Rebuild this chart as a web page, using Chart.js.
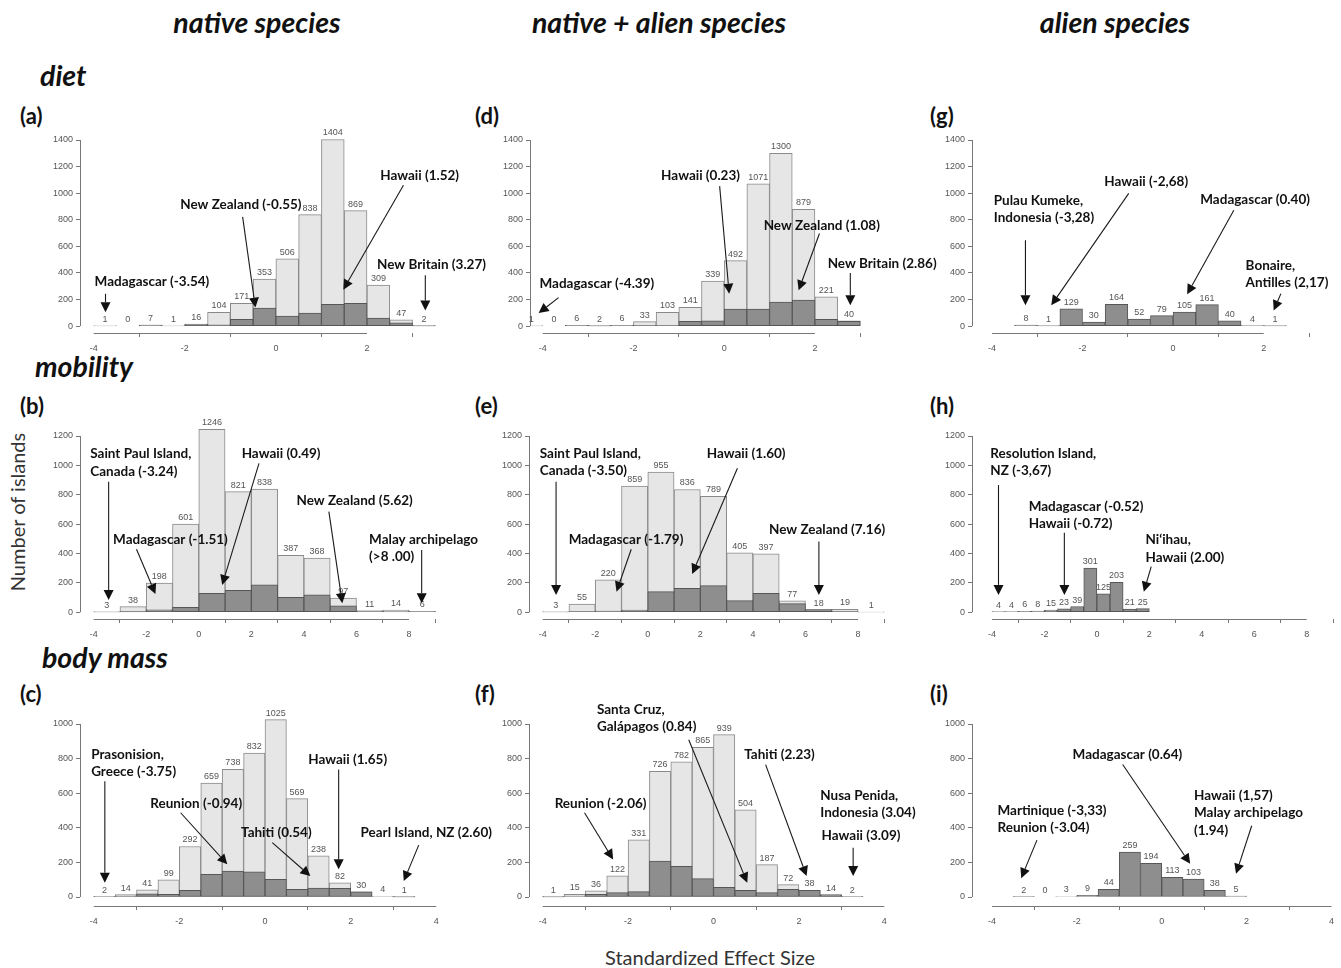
<!DOCTYPE html>
<html>
<head>
<meta charset="utf-8">
<title>Standardized effect size histograms</title>
<script src="https://cdn.jsdelivr.net/npm/chart.js@4.4.1/dist/chart.umd.min.js"></script>
<style>
  body { margin: 0; width: 1341px; height: 968px; overflow: hidden; background: #fff; position: relative; font-family: Lato, "Noto Sans", sans-serif; color: #111; }
  canvas { position: absolute; }
  .lbl { position: absolute; white-space: nowrap; transform: translate(-50%, -50%); }
  .head { font-weight: 700; font-style: italic; font-size: 28.5px; }
  .row { position: absolute; white-space: nowrap; transform: translateY(-50%); font-weight: 700; font-style: italic; font-size: 28.5px; }
  .tag { position: absolute; white-space: nowrap; transform: translateY(-50%); font-weight: 700; font-size: 22px; }
  .axis { font-size: 20px; color: #333; }
</style>
</head>
<body>
<div class="lbl head" style="left:257px;top:22px">native species</div>
<div class="lbl head" style="left:659px;top:22px">native + alien species</div>
<div class="lbl head" style="left:1115px;top:22px">alien species</div>

<div class="row" style="left:40px;top:75px">diet</div>
<div class="row" style="left:35px;top:366px">mobility</div>
<div class="row" style="left:42px;top:657px">body mass</div>

<div class="tag" style="left:20px;top:115px">(a)</div>
<div class="tag" style="left:20px;top:405px">(b)</div>
<div class="tag" style="left:20px;top:693px">(c)</div>
<div class="tag" style="left:475px;top:115px">(d)</div>
<div class="tag" style="left:475px;top:405px">(e)</div>
<div class="tag" style="left:475px;top:693px">(f)</div>
<div class="tag" style="left:930px;top:115px">(g)</div>
<div class="tag" style="left:930px;top:405px">(h)</div>
<div class="tag" style="left:930px;top:693px">(i)</div>

<div class="lbl axis" style="left:17px;top:512px;transform:translate(-50%,-50%) rotate(-90deg)">Number of islands</div>
<div class="lbl axis" style="left:710px;top:957px">Standardized Effect Size</div>

<script>
// lower bin edges
const binsDiet = [-4, -3.5, -3, -2.5, -2, -1.5, -1, -0.5, 0, 0.5, 1, 1.5, 2, 2.5, 3];
const binsDietMixed = [-4.5, -4, -3.5, -3, -2.5, -2, -1.5, -1, -0.5, 0, 0.5, 1, 1.5, 2, 2.5];
const binsDietAlien = [-3.5, -3, -2.5, -2, -1.5, -1, -0.5, 0, 0.5, 1, 1.5, 2];
const binsMobility = [-4, -3, -2, -1, 0, 1, 2, 3, 4, 5, 6, 7, 8];
const binsMobilityAlien = [-4, -3.5, -3, -2.5, -2, -1.5, -1, -0.5, 0, 0.5, 1, 1.5];
const binsMass = [-4, -3.5, -3, -2.5, -2, -1.5, -1, -0.5, 0, 0.5, 1, 1.5, 2, 2.5, 3];
const binsMassAlien = [-3.5, -3, -2.5, -2, -1.5, -1, -0.5, 0, 0.5, 1, 1.5];

// island counts (light bars) and the dark part of each bar
const dietNative = [1, 0, 7, 1, 16, 104, 171, 353, 506, 838, 1404, 869, 309, 47, 2];
const dietNativeDark = [0, 0, 7, 0, 14, 10, 50, 136, 75, 98, 163, 171, 60, 25, 2];
const dietMixed = [1, 0, 6, 2, 6, 33, 103, 141, 339, 492, 1071, 1300, 879, 221, 40];
const dietMixedDark = [0, 0, 6, 2, 6, 3, 4, 35, 40, 128, 128, 181, 196, 50, 35];
const dietAlien = [8, 1, 129, 30, 164, 52, 79, 105, 161, 40, 4, 1];

const mobilityNative = [3, 38, 198, 601, 1246, 821, 838, 387, 368, 97, 11, 14, 6];
const mobilityNativeDark = [3, 2, 16, 34, 129, 150, 186, 102, 118, 43, 8, 2, 6];
const mobilityMixed = [3, 55, 220, 859, 955, 836, 789, 405, 397, 77, 18, 19, 1];
const mobilityMixedDark = [3, 0, 8, 15, 140, 163, 181, 79, 129, 59, 18, 4, 0];
const mobilityAlien = [4, 4, 6, 8, 15, 23, 39, 301, 125, 203, 21, 25];

const massNative = [2, 14, 41, 99, 292, 659, 738, 832, 1025, 569, 238, 82, 30, 4, 1];
const massNativeDark = [2, 5, 19, 15, 38, 131, 150, 146, 102, 44, 52, 50, 30, 3, 1];
const massMixed = [1, 15, 36, 122, 331, 726, 782, 865, 939, 504, 187, 72, 38, 14, 2];
const massMixedDark = [1, 3, 15, 25, 31, 208, 177, 106, 56, 38, 25, 44, 38, 12, 2];
const massAlien = [2, 0, 3, 9, 44, 259, 194, 113, 103, 38, 5];

// tick labels
const xTicksDiet = [-4, -2, 0, 2];
const xTicksMobility = [-4, -2, 0, 2, 4, 6, 8];
const xTicksMass = [-4, -2, 0, 2, 4];
const yTicksDiet = [0, 200, 400, 600, 800, 1000, 1200, 1400];
const yTicksMobility = [0, 200, 400, 600, 800, 1000, 1200];
const yTicksMass = [0, 200, 400, 600, 800, 1000];

// labelled islands: text anchor and arrow in data units
const notesA = [
  { lines: ['Madagascar (-3.54)'], x: -3.98, y: 331, from: [-3.74, 243], to: [-3.74, 105] },
  { lines: ['New Zealand (-0.55)'], x: -2.10, y: 917, from: [-0.73, 822], to: [-0.45, 139] },
  { lines: ['Hawaii (1.52)'], x: 2.29, y: 1129, from: [2.80, 1060], to: [1.48, 274] },
  { lines: ['New Britain (3.27)'], x: 2.22, y: 464, from: [3.28, 382], to: [3.28, 118] }
];
const notesD = [
  { lines: ['Madagascar (-4.39)'], x: -4.07, y: 320, from: [-3.65, 214], to: [-4.09, 98] },
  { lines: ['Hawaii (0.23)'], x: -1.39, y: 1129, from: [-0.10, 1053], to: [0.11, 244] },
  { lines: ['New Zealand (1.08)'], x: 0.87, y: 752, from: [2.10, 697], to: [1.64, 269] },
  { lines: ['New Britain (2.86)'], x: 2.28, y: 470, from: [2.78, 400], to: [2.78, 156] }
];
const notesG = [
  { lines: ['Pulau Kumeke,', 'Indonesia (-3,28)'], x: -3.96, y: 880, from: [-3.26, 646], to: [-3.26, 156] },
  { lines: ['Hawaii (-2,68)'], x: -1.52, y: 1086, from: [-0.98, 998], to: [-2.69, 156] },
  { lines: ['Madagascar (0.40)'], x: 0.60, y: 948, from: [1.34, 872], to: [0.31, 239] },
  { lines: ['Bonaire,', 'Antilles (2,17)'], x: 1.60, y: 390, from: [2.38, 244], to: [2.22, 118] }
];
const notesB = [
  { lines: ['Saint Paul Island,', 'Canada (-3.24)'], x: -4.13, y: 1020, from: [-3.43, 889], to: [-3.43, 84] },
  { lines: ['Madagascar (-1.51)'], x: -3.26, y: 497, from: [-2.37, 429], to: [-1.65, 125] },
  { lines: ['Hawaii (0.49)'], x: 1.63, y: 1082, from: [2.29, 1014], to: [0.89, 186] },
  { lines: ['New Zealand (5.62)'], x: 3.72, y: 758, from: [4.95, 685], to: [5.46, 61] },
  { lines: ['Malay archipelago', '(>8 .00)'], x: 6.48, y: 438, from: [8.48, 424], to: [8.48, 61] }
];
const notesE = [
  { lines: ['Saint Paul Island,', 'Canada (-3.50)'], x: -4.11, y: 1023, from: [-3.49, 889], to: [-3.49, 118] },
  { lines: ['Madagascar (-1.79)'], x: -3.01, y: 497, from: [-0.63, 429], to: [-1.19, 140] },
  { lines: ['Hawaii (1.60)'], x: 2.24, y: 1082, from: [3.41, 980], to: [1.69, 261] },
  { lines: ['New Zealand (7.16)'], x: 4.61, y: 560, from: [6.51, 481], to: [6.51, 118] }
];
const notesH = [
  { lines: ['Resolution Island,', 'NZ (-3,67)'], x: -4.06, y: 1023, from: [-3.75, 866], to: [-3.75, 118] },
  { lines: ['Madagascar (-0.52)', 'Hawaii (-0.72)'], x: -2.60, y: 662, from: [-1.24, 541], to: [-1.24, 118] },
  { lines: ['Ni\u2018ihau,', 'Hawaii (2.00)'], x: 1.85, y: 434, from: [2.07, 310], to: [1.79, 140] }
];
const notesC = [
  { lines: ['Prasonision,', 'Greece (-3.75)'], x: -4.06, y: 775, from: [-3.74, 669], to: [-3.74, 83] },
  { lines: ['Reunion (-0.94)'], x: -2.68, y: 541, from: [-1.97, 487], to: [-0.88, 189] },
  { lines: ['Hawaii (1.65)'], x: 1.01, y: 794, from: [1.72, 737], to: [1.72, 160] },
  { lines: ['Tahiti (0.54)'], x: -0.56, y: 371, from: [0.17, 314], to: [1.06, 121] },
  { lines: ['Pearl Island, NZ (2.60)'], x: 2.23, y: 371, from: [3.59, 300], to: [3.24, 92] }
];
const notesF = [
  { lines: ['Santa Cruz,', 'Galápagos (0.84)'], x: -2.73, y: 1035, from: [-0.58, 909], to: [0.79, 83] },
  { lines: ['Tahiti (2.23)'], x: 0.72, y: 823, from: [1.22, 765], to: [2.18, 121] },
  { lines: ['Reunion (-2.06)'], x: -3.72, y: 541, from: [-3.02, 487], to: [-2.35, 217] },
  { lines: ['Nusa Penida,', 'Indonesia (3.04)'], x: 2.50, y: 537 },
  { lines: ['Hawaii (3.09)'], x: 2.53, y: 352, from: [3.27, 285], to: [3.27, 121] }
];
const notesI = [
  { lines: ['Martinique (-3,33)', 'Reunion (-3.04)'], x: -3.87, y: 450, from: [-2.94, 329], to: [-3.31, 109] },
  { lines: ['Madagascar (0.64)'], x: -2.10, y: 824, from: [-0.92, 766], to: [0.67, 192] },
  { lines: ['Hawaii (1,57)', 'Malay archipelago', '(1.94)'], x: 0.76, y: 486, from: [2.12, 412], to: [1.75, 134] }
];

// box = [plot left, plot right, top tick, x axis line] in page px
const panels = [
  { bins: binsDiet, width: 0.5, total: dietNative, dark: dietNativeDark, xTicks: xTicksDiet, yTicks: yTicksDiet, yMin: -52, xMin: -4.3, xMax: 3.8, box: [79.6, 448.8, 140, 332.6], notes: notesA },
  { bins: binsMobility, width: 1, total: mobilityNative, dark: mobilityNativeDark, xTicks: xTicksMobility, yTicks: yTicksMobility, yMin: -46, xMin: -4.52, xMax: 9.52, box: [79.65, 448.2, 436, 619], notes: notesB },
  { bins: binsMass, width: 0.5, total: massNative, dark: massNativeDark, xTicks: xTicksMass, yTicks: yTicksMass, yMin: -52, xMin: -4.32, xMax: 4.32, box: [79.6, 449.4, 724.3, 906.7], notes: notesC },
  { bins: binsDietMixed, width: 0.5, total: dietMixed, dark: dietMixedDark, xTicks: xTicksDiet, yTicks: yTicksDiet, yMin: -52, xMin: -4.28, xMax: 3.28, box: [529.6, 872.8, 140, 332.6], notes: notesD },
  { bins: binsMobility, width: 1, total: mobilityMixed, dark: mobilityMixedDark, xTicks: xTicksMobility, yTicks: yTicksMobility, yMin: -46, xMin: -4.52, xMax: 9.52, box: [528.65, 897.2, 436, 619], notes: notesE },
  { bins: binsMass, width: 0.5, total: massMixed, dark: massMixedDark, xTicks: xTicksMass, yTicks: yTicksMass, yMin: -52, xMin: -4.32, xMax: 4.32, box: [528.6, 897.6, 724.3, 906.7], notes: notesF },
  { bins: binsDietAlien, width: 0.5, total: null, dark: dietAlien, xTicks: xTicksDiet, yTicks: yTicksDiet, yMin: -52, xMin: -4.44, xMax: 3.0, box: [971.7, 1308.7, 140, 332.6], notes: notesG },
  { bins: binsMobilityAlien, width: 0.5, total: null, dark: mobilityAlien, xTicks: xTicksMobility, yTicks: yTicksMobility, yMin: -46, xMin: -4.76, xMax: 9, box: [971.7, 1332.2, 436, 619], notes: notesH },
  { bins: binsMassAlien, width: 0.5, total: null, dark: massAlien, xTicks: xTicksMass, yTicks: yTicksMass, yMin: -52, xMin: -4.47, xMax: 4.2, box: [971.7, 1340, 724.3, 906.7], notes: notesI }
];

const PAD_L = 45, PAD_T = 30, PAD_R = 75, PAD_B = 30;

Chart.defaults.font.family = "'Liberation Sans', Arial, sans-serif";
Chart.defaults.color = '#555';

function barData(bins, width, values) {
  return bins.map((b, i) => ({ x: b + width / 2, y: values[i] }));
}

function drawArrow(ctx, x1, y1, x2, y2) {
  const ang = Math.atan2(y2 - y1, x2 - x1);
  const len = 10, half = 5;
  const bx = x2 - len * Math.cos(ang), by = y2 - len * Math.sin(ang);
  ctx.beginPath();
  ctx.moveTo(x1, y1);
  ctx.lineTo(bx, by);
  ctx.stroke();
  ctx.beginPath();
  ctx.moveTo(x2, y2);
  ctx.lineTo(bx + half * Math.sin(ang), by - half * Math.cos(ang));
  ctx.lineTo(bx - half * Math.sin(ang), by + half * Math.cos(ang));
  ctx.closePath();
  ctx.fill();
}

function drawExtras(chart, p) {
  const { ctx, chartArea: area, scales: { x, y } } = chart;
  ctx.save();

  // R style axes: lines only from first to last tick
  ctx.strokeStyle = '#777';
  ctx.lineWidth = 1;
  const ax = Math.round(area.left) + 0.5;
  ctx.beginPath();
  ctx.moveTo(ax, y.getPixelForValue(p.yTicks[0]));
  ctx.lineTo(ax, y.getPixelForValue(p.yTicks[p.yTicks.length - 1]));
  ctx.stroke();
  const ay = Math.round(area.bottom) + 0.5;
  ctx.beginPath();
  ctx.moveTo(x.getPixelForValue(p.xTicks[0]), ay);
  ctx.lineTo(x.getPixelForValue(p.xTicks[p.xTicks.length - 1]), ay);
  ctx.stroke();

  // counts above bars
  const counts = p.total || p.dark;
  ctx.font = "9px 'Liberation Sans', Arial, sans-serif";
  ctx.fillStyle = '#555';
  ctx.textAlign = 'center';
  ctx.textBaseline = 'bottom';
  counts.forEach((v, i) => {
    const cx = p.bins[i] + p.width / 2;
    if (cx < x.min) return;
    ctx.fillText(String(v), x.getPixelForValue(cx), y.getPixelForValue(v) - 2);
  });

  // island labels and arrows
  ctx.font = "bold 13.5px Lato, 'Noto Sans', sans-serif";
  ctx.fillStyle = '#111';
  ctx.strokeStyle = '#1a1a1a';
  ctx.lineWidth = 1.1;
  ctx.textAlign = 'left';
  ctx.textBaseline = 'middle';
  p.notes.forEach(n => {
    const tx = x.getPixelForValue(n.x), ty = y.getPixelForValue(n.y);
    n.lines.forEach((line, k) => {
      ctx.fillText(line, tx, ty + (k - (n.lines.length - 1) / 2) * 17.5);
    });
    if (n.from) {
      drawArrow(ctx, x.getPixelForValue(n.from[0]), y.getPixelForValue(n.from[1]),
        x.getPixelForValue(n.to[0]), y.getPixelForValue(n.to[1]));
    }
  });
  ctx.restore();
}

function makePanel(p, idx) {
  const canvas = document.createElement('canvas');
  const w = Math.round(p.box[1] - p.box[0]) + PAD_L + PAD_R;
  const h = Math.round(p.box[3] - p.box[2]) + PAD_T + PAD_B;
  canvas.width = w;
  canvas.height = h;
  canvas.style.left = (Math.round(p.box[0]) - PAD_L) + 'px';
  canvas.style.top = (Math.round(p.box[2]) - PAD_T) + 'px';
  canvas.style.width = w + 'px';
  canvas.style.height = h + 'px';
  document.body.appendChild(canvas);

  const barStyle = {
    borderWidth: 1,
    borderSkipped: false,
    grouped: false,
    barPercentage: 1,
    categoryPercentage: 1,
    clip: { left: 0, top: false, right: false, bottom: false }
  };
  const datasets = [
    Object.assign({ data: barData(p.bins, p.width, p.dark), backgroundColor: '#8e8e8e', borderColor: '#565656', order: 1 }, barStyle)
  ];
  if (p.total) {
    datasets.push(Object.assign({ data: barData(p.bins, p.width, p.total), backgroundColor: '#e6e6e6', borderColor: '#8a8a8a', order: 2 }, barStyle));
  }

  const tickFont = { size: 9, family: "'Liberation Sans', Arial, sans-serif" };
  new Chart(canvas, {
    type: 'bar',
    data: { datasets },
    options: {
      responsive: false,
      animation: false,
      events: [],
      layout: { padding: { left: 0, top: PAD_T, right: PAD_R, bottom: 0 } },
      plugins: { legend: { display: false }, tooltip: { enabled: false } },
      scales: {
        x: {
          type: 'linear',
          offset: false,
          min: p.xMin,
          max: p.xMax,
          afterBuildTicks: s => { s.ticks = p.xTicks.map(v => ({ value: v })); },
          afterFit: s => { s.height = PAD_B; },
          grid: { drawOnChartArea: false, drawTicks: true, tickLength: 4, color: '#777' },
          border: { display: false },
          ticks: { font: tickFont, color: '#555', padding: 6, maxRotation: 0, autoSkip: false, callback: v => String(v) }
        },
        y: {
          type: 'linear',
          min: p.yMin,
          max: p.yTicks[p.yTicks.length - 1],
          afterBuildTicks: s => { s.ticks = p.yTicks.map(v => ({ value: v })); },
          afterFit: s => { s.width = PAD_L; },
          grid: { drawOnChartArea: false, drawTicks: true, tickLength: 4, color: '#777' },
          border: { display: false },
          ticks: { font: tickFont, color: '#555', padding: 3, callback: v => String(v) }
        }
      }
    },
    plugins: [{ id: 'rextras' + idx, afterDraw: chart => drawExtras(chart, p) }]
  });
}

panels.forEach(makePanel);
</script>
</body>
</html>
